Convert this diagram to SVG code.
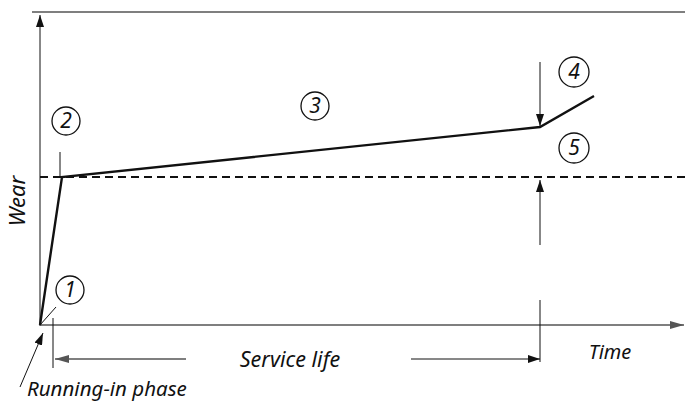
<svg xmlns="http://www.w3.org/2000/svg" width="685" height="403" viewBox="0 0 685 403">
<style>
.t{font-family:"Noto Sans","Open Sans",sans-serif;font-style:italic;fill:#111}
.c{fill:none;stroke:#111;stroke-width:1.3}
.n{font-family:"Noto Sans","Open Sans",sans-serif;font-style:italic;font-size:21px;fill:#111;text-anchor:middle}
.thin{stroke:#111;stroke-width:1;fill:none}
.gray{stroke:#555;stroke-width:1.6;fill:none}
</style>
<defs>
<marker id="ah" markerWidth="12" markerHeight="8" refX="12" refY="4" orient="auto" markerUnits="userSpaceOnUse">
<path d="M0,0 L12,4 L0,8 Z" fill="#111"/>
</marker>
<marker id="ahg" markerWidth="14" markerHeight="8" refX="14" refY="4" orient="auto" markerUnits="userSpaceOnUse">
<path d="M0,0 L14,4 L0,8 Z" fill="#555"/>
</marker>
</defs>
<rect width="685" height="403" fill="#fff"/>
<g id="connectors">
<line x1="32" y1="12" x2="685" y2="12" class="gray"/>
<line x1="40" y1="326" x2="40" y2="15" class="thin" marker-end="url(#ah)"/>
<line x1="40" y1="325" x2="684" y2="325" class="gray" marker-end="url(#ahg)"/>
<line x1="40" y1="177" x2="685" y2="177" stroke="#111" stroke-width="2" stroke-dasharray="8,5"/>
<polyline points="40,325 62,177 540,127 594,96" fill="none" stroke="#111" stroke-width="2.4" stroke-linejoin="miter"/>
<line x1="60" y1="152" x2="60" y2="178" class="thin"/>
<line x1="40" y1="325" x2="56" y2="307" class="thin" stroke="#555"/>
<line x1="53" y1="318" x2="53" y2="368" class="thin" stroke="#555"/>
<line x1="20" y1="387" x2="43" y2="333" class="thin" marker-end="url(#ah)"/>
<line x1="186" y1="359" x2="55" y2="359" class="gray" marker-end="url(#ahg)"/>
<line x1="411" y1="359" x2="540" y2="359" class="thin" marker-end="url(#ah)"/>
<line x1="540" y1="300" x2="540" y2="362" class="thin"/>
<line x1="540" y1="62" x2="540" y2="126" class="thin" marker-end="url(#ah)"/>
<line x1="540" y1="245" x2="540" y2="180" class="thin" marker-end="url(#ah)"/>
</g>
<g id="n1"><circle cx="70" cy="290" r="14" class="c"/><text x="70" y="297" class="n">1</text></g>
<g id="n2"><circle cx="66" cy="121" r="14" class="c"/><text x="66" y="128" class="n">2</text></g>
<g id="n3"><circle cx="315" cy="106" r="14" class="c"/><text x="315" y="113" class="n" fill="#555">3</text></g>
<g id="n4"><circle cx="574" cy="72" r="15" class="c"/><text x="574" y="79" class="n">4</text></g>
<g id="n5"><circle cx="574" cy="148" r="15" class="c"/><text x="574" y="155" class="n">5</text></g>
<g id="labels">
<text class="t" font-size="22" transform="translate(25,201) rotate(-90)" text-anchor="middle">Wear</text>
<text class="t" font-size="21.5" x="290" y="367" text-anchor="middle">Service life</text>
<text class="t" font-size="20" x="610" y="359" text-anchor="middle">Time</text>
<text class="t" font-size="20.5" x="27" y="396">Running-in phase</text>
</g>
</svg>
